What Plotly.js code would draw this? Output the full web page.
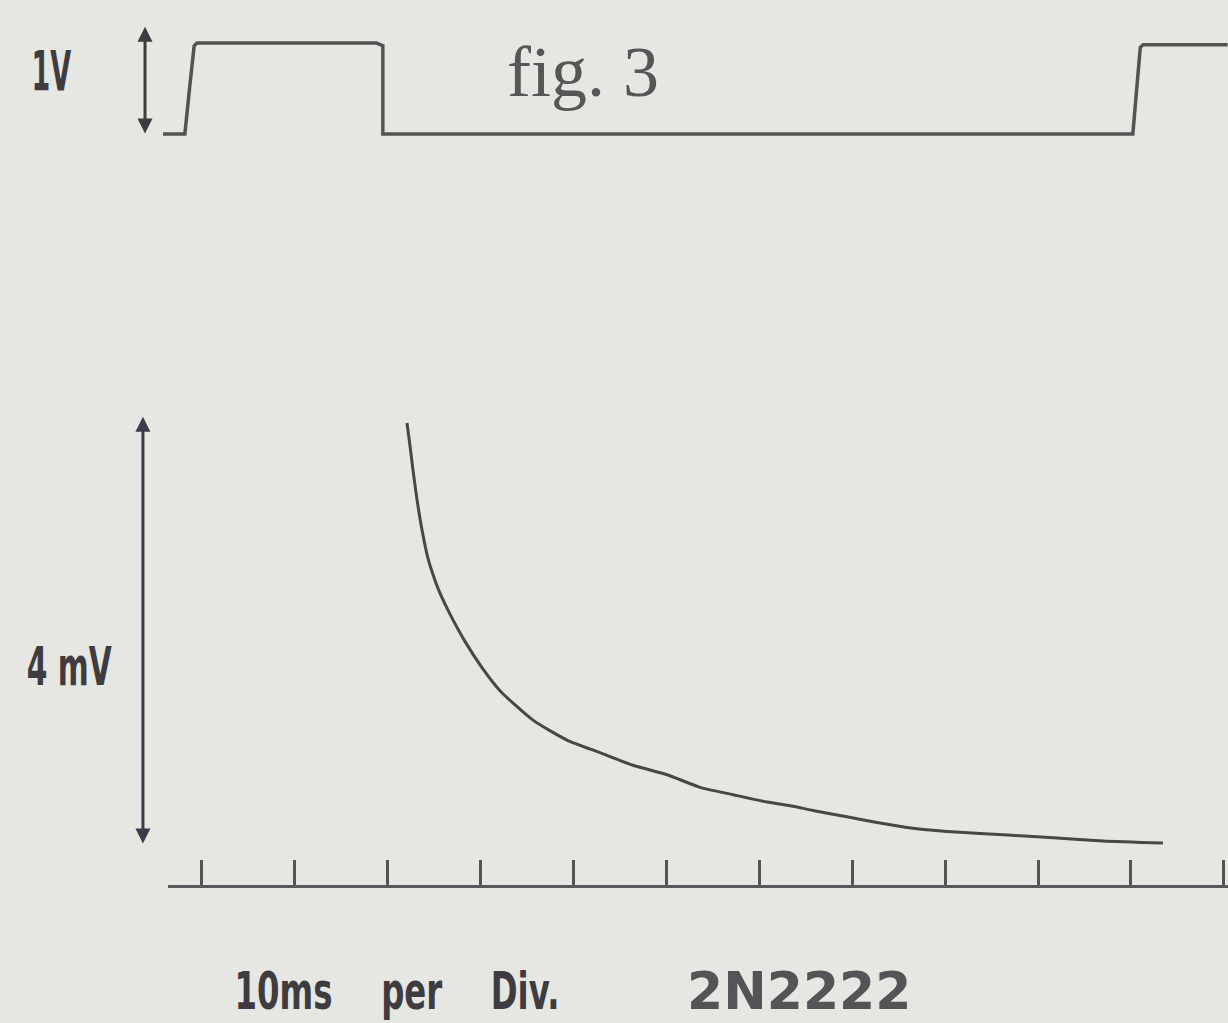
<!DOCTYPE html>
<html>
<head>
<meta charset="utf-8">
<script src="https://cdn.plot.ly/plotly-3.0.1.min.js"></script>
<style>
  html, body { margin: 0; padding: 0; background: #e6e6e3; }
  #chart { width: 1228px; height: 1023px; }
</style>
</head>
<body>
<div id="chart"></div>
<script>
// Input square wave (time in ms, amplitude in V)
const squareTime  = [-4.15, -1.8, -1.3, -0.8, -0.5, 18.8, 19.5, 19.5, 100.2, 100.5, 101.0, 101.3, 110.4];
const squareVolts = [0, 0, 0.5, 0.97, 1.0, 1.0, 0.97, 0, 0, 0.4, 0.95, 0.98, 0.98];

// Decay response (time in ms, amplitude in mV)
const decayTime = [22.1, 22.43, 22.75, 23.18, 23.72, 24.36, 25.12, 25.65, 26.73, 28.34, 30.17, 32.11, 35.66,
                   39.32, 42.87, 46.42, 50.09, 53.64, 57.19, 60.85, 63.63, 65.78, 69.44, 72.99, 76.55, 80.2,
                   83.75, 89.89, 91.61, 96.99, 103.44];
const decayMilliVolts = [4.0, 3.78, 3.55, 3.27, 2.98, 2.71, 2.50, 2.38, 2.18, 1.92, 1.67, 1.45, 1.17,
                   0.98, 0.86, 0.74, 0.65, 0.53, 0.46, 0.39, 0.35, 0.31, 0.25, 0.19, 0.14, 0.11,
                   0.09, 0.06, 0.05, 0.02, 0.0];

// Scale bars and labels
const voltScale = 1;      // V
const milliVoltScale = 4; // mV
const msPerDiv = 10;
const labels = {
  volt: "1V",
  milliVolt: "4 mV",
  title: "fig. 3",
  timebase: "10ms\u2003\u2002per\u2003\u2002Div.",
  device: "2N2222"
};

// condensed label widths (px) to mimic the narrow lettering of the original
const condensedWidth = {};
condensedWidth[labels.volt] = 40;
condensedWidth[labels.milliVolt] = 85;
condensedWidth[labels.timebase] = 325;

const ink = '#4a4648';
const bg = '#e6e6e3';
const boldSans = { family: 'DejaVu Sans, sans-serif', weight: 'bold', color: '#3e3c3e' };

const traces = [
  {
    x: squareTime, y: squareVolts, xaxis: 'x2', yaxis: 'y2',
    mode: 'lines', line: { color: '#555253', width: 3.5 }, hoverinfo: 'skip'
  },
  {
    x: decayTime, y: decayMilliVolts, xaxis: 'x', yaxis: 'y',
    mode: 'lines', line: { color: ink, width: 3, shape: 'spline', smoothing: 0.6 }, hoverinfo: 'skip'
  }
];

const hidden = { showgrid: false, zeroline: false, showline: false, showticklabels: false, ticks: '' };

const layout = {
  width: 1228, height: 1023,
  margin: { l: 0, r: 0, t: 0, b: 0 },
  paper_bgcolor: bg, plot_bgcolor: bg,
  showlegend: false,
  xaxis: {
    domain: [0.1368, 1], range: [-3.615, 110.44], anchor: 'y',
    showline: true, linecolor: '#5a585a', linewidth: 3,
    ticks: 'inside', ticklen: 25, tickwidth: 3, tickcolor: '#555355',
    tick0: 0, dtick: msPerDiv, showticklabels: false, showgrid: false, zeroline: false
  },
  yaxis: Object.assign({ domain: [0.1349, 0.6090], range: [-0.4, 4.219], anchor: 'x' }, hidden),
  xaxis2: Object.assign({ domain: [0.1303, 1], range: [-4.476, 110.44], anchor: 'y2' }, hidden),
  yaxis2: Object.assign({ domain: [0.8387, 0.9853], range: [-0.3407, 1.3077], anchor: 'x2' }, hidden),
  annotations: [
    // 1 V scale bar
    { xref: 'paper', yref: 'y2', x: 0.1181, y: voltScale * 1.18, axref: 'pixel', ayref: 'y2', ax: 0, ay: -0.01,
      text: '', showarrow: true, arrowside: 'end+start', arrowhead: 2, startarrowhead: 2,
      arrowsize: 1, startarrowsize: 1, arrowwidth: 3, arrowcolor: '#3e3a3e' },
    // 4 mV scale bar
    { xref: 'paper', yref: 'y', x: 0.1164, y: milliVoltScale * 1.015, axref: 'pixel', ayref: 'y', ax: 0, ay: -0.02,
      text: '', showarrow: true, arrowside: 'end+start', arrowhead: 2, startarrowhead: 2,
      arrowsize: 1, startarrowsize: 1, arrowwidth: 3, arrowcolor: '#3e3a4a' },
    { xref: 'paper', yref: 'paper', x: 0.0423, y: 0.9306, text: labels.volt, showarrow: false,
      xanchor: 'center', yanchor: 'middle', font: Object.assign({ size: 56 }, boldSans) },
    { xref: 'paper', yref: 'paper', x: 0.0562, y: 0.348, text: labels.milliVolt, showarrow: false,
      xanchor: 'center', yanchor: 'middle', font: Object.assign({ size: 54 }, boldSans) },
    { xref: 'paper', yref: 'paper', x: 0.4748, y: 0.9296, text: labels.title, showarrow: false,
      xanchor: 'center', yanchor: 'middle', font: { family: 'Liberation Serif, DejaVu Serif, serif', size: 72, color: '#585557' } },
    { xref: 'paper', yref: 'paper', x: 0.3233, y: 0.0, text: labels.timebase, showarrow: false,
      xanchor: 'center', yanchor: 'bottom', font: Object.assign({ size: 52 }, boldSans) },
    { xref: 'paper', yref: 'paper', x: 0.6507, y: 0.0, text: labels.device, showarrow: false,
      xanchor: 'center', yanchor: 'bottom', font: { family: 'DejaVu Sans, sans-serif', weight: 'bold', size: 52, color: '#555355' } }
  ]
};

Plotly.newPlot('chart', traces, layout, { staticPlot: true, displayModeBar: false }).then(function () {
  document.querySelectorAll('#chart text.annotation-text').forEach(function (el) {
    const target = condensedWidth[el.textContent];
    if (!target) return;
    const bb = el.getBBox();
    if (!bb.width) return;
    const cx = bb.x + bb.width / 2;
    const sx = target / bb.width;
    const prev = el.getAttribute('transform') || '';
    el.setAttribute('transform', (prev + ' translate(' + cx + ',0) scale(' + sx + ',1) translate(' + (-cx) + ',0)').trim());
  });
});
</script>
</body>
</html>
